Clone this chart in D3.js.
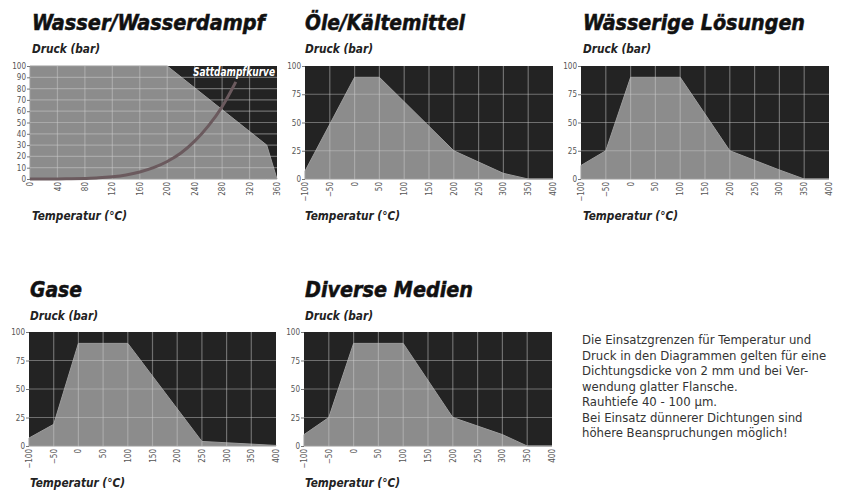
<!DOCTYPE html>
<html>
<head>
<meta charset="utf-8">
<script src="https://cdn.jsdelivr.net/npm/d3@7"></script>
<style>
  body { margin: 0; background: #fff; }
  svg { display: block; }
  .title { font-family: "Liberation Sans Narrow", "DejaVu Sans Condensed", sans-serif; font-weight: bold; font-style: italic; fill: #111; stroke: #111; stroke-width: 0.5; }
  .label { font-family: "Liberation Sans Narrow", "DejaVu Sans Condensed", sans-serif; font-weight: bold; font-style: italic; fill: #222; }
  .axis text { font-family: "Liberation Sans Narrow", "DejaVu Sans Condensed", sans-serif; font-size: 8px; fill: #555; }
  .axis line { stroke: #777; }
  .note { font-family: "Liberation Sans Narrow", "DejaVu Sans Condensed", sans-serif; font-size: 13px; fill: #333; }
</style>
</head>
<body>
<svg width="843" height="492"></svg>
<script>
// tick labels
const wasserXTicks = [0, 40, 80, 120, 160, 200, 240, 280, 320, 360];
const wasserYTicks = [0, 10, 20, 30, 40, 50, 60, 70, 80, 90, 100];
const medienXTicks = [-100, -50, 0, 50, 100, 150, 200, 250, 300, 350, 400];
const medienYTicks = [0, 25, 50, 75, 100];

// Wasser/Wasserdampf: zulässiger Bereich und Sattdampfkurve
const wasserTemp = [0, 200, 345, 360];
const wasserDruck = [100, 100, 30, 0];
const sattTemp = [0, 20, 40, 60, 80, 100, 120, 140, 160, 180, 200, 220, 240, 260, 280, 300];
const sattDruck = [0.01, 0.02, 0.07, 0.2, 0.5, 1, 2, 3.6, 6.2, 10, 15.5, 23, 33.5, 47, 64, 86];

// Öle/Kältemittel
const oeleTemp = [-100, 0, 50, 200, 300, 350, 400];
const oeleDruck = [7, 90, 90, 25, 5, 0, 0];

// Wässerige Lösungen
const loesTemp = [-100, -50, 0, 100, 200, 300, 350, 400];
const loesDruck = [12, 25, 90, 90, 25, 8, 0, 0];

// Gase
const gaseTemp = [-100, -50, 0, 100, 250, 400];
const gaseDruck = [7, 19, 90, 90, 4, 0.5];

// Diverse Medien
const diverseTemp = [-100, -50, 0, 100, 200, 300, 350, 400];
const diverseDruck = [10, 25, 90, 90, 25, 10, 0, 0];

const noteLines = [
  "Die Einsatzgrenzen für Temperatur und",
  "Druck in den Diagrammen gelten für eine",
  "Dichtungsdicke von 2 mm und bei Ver-",
  "wendung glatter Flansche.",
  "Rauhtiefe 40 - 100 µm.",
  "Bei Einsatz dünnerer Dichtungen sind",
  "höhere Beanspruchungen möglich!"
];

const svg = d3.select("svg");

const panels = [
  { title: "Wasser/Wasserdampf", titleW: 233, temp: wasserTemp, druck: wasserDruck,
    xTicks: wasserXTicks, yTicks: wasserYTicks, x0: 30, x1: 277, y0: 66, y1: 179, tx: 32, ty: 30, satt: true },
  { title: "Öle/Kältemittel", titleW: 160, temp: oeleTemp, druck: oeleDruck,
    xTicks: medienXTicks, yTicks: medienYTicks, x0: 305, x1: 553, y0: 66, y1: 179, tx: 305, ty: 30 },
  { title: "Wässerige Lösungen", titleW: 222, temp: loesTemp, druck: loesDruck,
    xTicks: medienXTicks, yTicks: medienYTicks, x0: 581, x1: 829, y0: 66, y1: 179, tx: 583, ty: 30 },
  { title: "Gase", titleW: 52, temp: gaseTemp, druck: gaseDruck,
    xTicks: medienXTicks, yTicks: medienYTicks, x0: 29, x1: 276, y0: 332, y1: 446, tx: 30, ty: 297 },
  { title: "Diverse Medien", titleW: 168, temp: diverseTemp, druck: diverseDruck,
    xTicks: medienXTicks, yTicks: medienYTicks, x0: 304, x1: 552, y0: 332, y1: 446, tx: 305, ty: 297 }
];

panels.forEach(drawPanel);

function drawPanel(p) {
    const x = d3.scaleLinear()
        .domain([p.xTicks[0], p.xTicks[p.xTicks.length - 1]])
        .range([p.x0, p.x1]);
    const y = d3.scaleLinear().domain([0, 100]).range([p.y1, p.y0]);

    svg.append("text").attr("class", "title")
        .attr("x", p.tx).attr("y", p.ty)
        .attr("font-size", 22)
        .attr("textLength", p.titleW).attr("lengthAdjust", "spacingAndGlyphs")
        .text(p.title);

    svg.append("text").attr("class", "label")
        .attr("x", p.tx).attr("y", p.ty + 23)
        .attr("font-size", 12)
        .attr("textLength", 68).attr("lengthAdjust", "spacingAndGlyphs")
        .text("Druck (bar)");

    svg.append("text").attr("class", "label")
        .attr("x", p.tx).attr("y", p.ty + 190)
        .attr("font-size", 13)
        .attr("textLength", 95).attr("lengthAdjust", "spacingAndGlyphs")
        .text("Temperatur (°C)");

    // dunkler Hintergrund
    svg.append("rect")
        .attr("x", p.x0).attr("y", p.y0)
        .attr("width", p.x1 - p.x0).attr("height", p.y1 - p.y0)
        .attr("fill", "#232323");

    const pts = p.temp.map((t, i) => ({ t: t, d: p.druck[i] }));
    const area = d3.area()
        .x(d => x(d.t))
        .y0(y(0))
        .y1(d => y(d.d));

    svg.append("path")
        .datum(pts)
        .attr("d", area)
        .attr("fill", "#8c8c8c")
        .attr("stroke", "#9c9c9c")
        .attr("stroke-width", 1);

    // Gitter
    const grid = svg.append("g").attr("stroke", "rgba(205,205,205,0.45)").attr("stroke-width", 1.2);
    grid.selectAll(".v").data(p.xTicks.slice(1, -1)).join("line")
        .attr("x1", d => x(d)).attr("x2", d => x(d))
        .attr("y1", p.y0).attr("y2", p.y1);
    grid.selectAll(".h").data(p.yTicks.slice(1, -1)).join("line")
        .attr("x1", p.x0).attr("x2", p.x1)
        .attr("y1", d => y(d)).attr("y2", d => y(d));

    if (p.satt) {
        const satt = sattTemp.map((t, i) => ({ t: t, d: sattDruck[i] }));
        svg.append("path")
            .datum(satt)
            .attr("d", d3.line().curve(d3.curveMonotoneX).x(d => x(d.t)).y(d => y(d.d)))
            .attr("fill", "none")
            .attr("stroke", "#6b5a5e")
            .attr("stroke-width", 3);
        svg.append("text")
            .attr("x", p.x1 - 2).attr("y", p.y0 + 10)
            .attr("text-anchor", "end")
            .attr("font-family", "'Liberation Sans Narrow', 'DejaVu Sans Condensed', sans-serif")
            .attr("font-weight", "bold").attr("font-style", "italic")
            .attr("font-size", 12).attr("fill", "#fff")
            .attr("textLength", 82).attr("lengthAdjust", "spacingAndGlyphs")
            .text("Sattdampfkurve");
    }

    const yAxis = svg.append("g").attr("class", "axis")
        .attr("transform", `translate(${p.x0}, 0)`)
        .call(d3.axisLeft(y).tickValues(p.yTicks).tickSize(3).tickPadding(1));
    yAxis.select(".domain").remove();

    const xAxis = svg.append("g").attr("class", "axis")
        .attr("transform", `translate(0, ${p.y1})`)
        .call(d3.axisBottom(x).tickValues(p.xTicks).tickSize(0));
    xAxis.select(".domain").remove();
    xAxis.selectAll("text")
        .attr("transform", "rotate(-90)")
        .attr("x", -3).attr("y", 0).attr("dy", "0.32em")
        .style("text-anchor", "end");
}

svg.append("g").selectAll("text")
    .data(noteLines)
    .join("text")
    .attr("class", "note")
    .attr("x", 582)
    .attr("y", (d, i) => 344 + i * 15.55)
    .text(d => d);
</script>
</body>
</html>
